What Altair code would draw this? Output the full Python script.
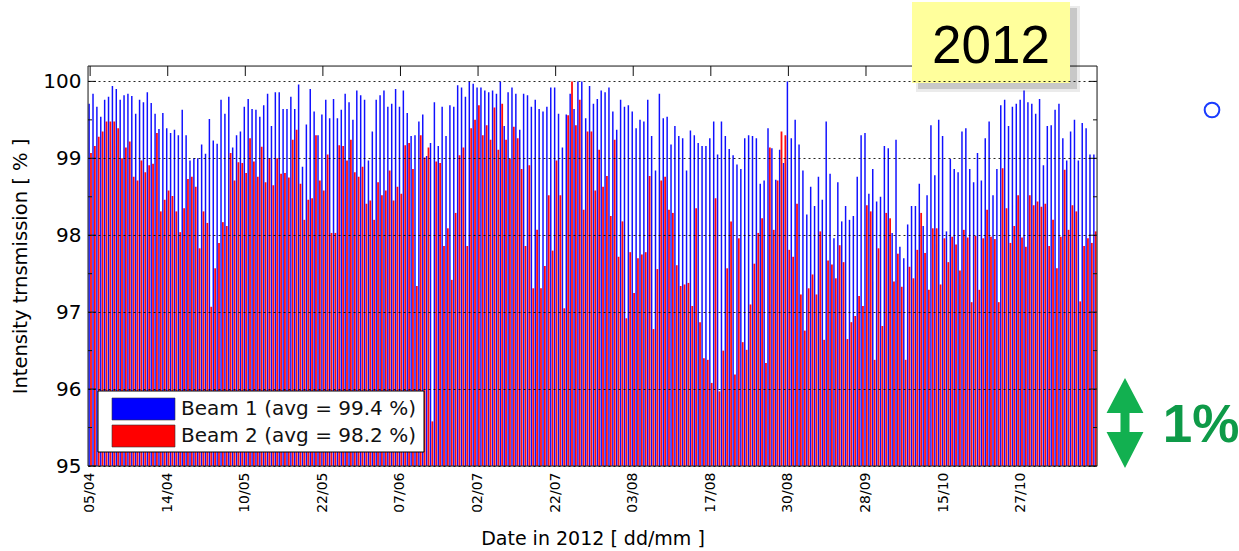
import altair as alt
import pandas as pd

# Intensity transmission per fill, 2012 (percent)
beam1 = [
    99.71, 99.84, 99.67, 99.54, 99.76, 99.80, 99.94, 99.90, 99.76, 99.82,
    99.84, 99.81, 99.58, 99.76, 99.73, 99.86, 99.72, 99.58, 99.38, 99.59,
    99.39, 99.33, 99.37, 99.30, 99.63, 99.30, 98.97, 99.00, 99.00, 99.18,
    99.06, 99.51, 99.23, 99.19, 99.76, 99.58, 99.80, 99.14, 99.30, 99.35,
    99.67, 99.77, 99.64, 99.63, 99.54, 99.69, 99.84, 99.42, 99.86, 99.86,
    99.64, 99.64, 99.80, 99.64, 99.96, 98.89, 99.44, 99.90, 99.61, 99.30,
    99.57, 99.76, 99.52, 99.77, 99.52, 99.63, 99.84, 99.73, 99.50, 99.88,
    99.82, 99.76, 98.97, 99.35, 99.76, 99.82, 99.88, 99.67, 99.71, 99.90,
    99.67, 99.88, 99.59, 99.29, 99.30, 99.48, 99.57, 99.03, 99.20, 99.73,
    99.16, 99.67, 99.29, 99.69, 99.67, 99.95, 99.92, 99.80, 100.0, 99.97,
    99.92, 99.92, 99.88, 99.86, 99.88, 99.84, 100.0, 99.42, 99.86, 99.92,
    99.84, 99.37, 99.84, 99.82, 99.67, 99.76, 99.64, 99.61, 99.67, 99.92,
    99.92, 99.58, 99.14, 99.57, 99.84, 99.64, 100.0, 100.0, 99.52, 99.94,
    99.71, 99.77, 99.88, 99.86, 99.92, 99.61, 99.37, 99.76, 99.67, 99.69,
    99.61, 99.39, 99.50, 99.48, 99.76, 99.29, 98.84, 99.84, 99.52, 99.54,
    99.18, 99.42, 99.29, 99.26, 98.84, 99.36, 99.30, 99.20, 99.16, 99.16,
    99.26, 99.48, 99.05, 99.48, 99.29, 99.12, 99.04, 98.92, 98.86, 99.26,
    99.30, 99.29, 99.26, 98.67, 98.71, 99.39, 99.13, 98.72, 99.11, 98.94,
    100.0, 99.26, 99.50, 99.18, 98.84, 98.27, 98.63, 98.38, 98.76, 98.46,
    99.48, 98.80, 97.96, 98.69, 98.18, 98.38, 98.20, 98.25, 98.76, 99.30,
    99.33, 98.54, 98.86, 98.44, 98.50, 99.16, 99.13, 98.03, 99.24, 97.85,
    97.70, 98.14, 98.38, 98.38, 98.67, 98.12, 98.52, 99.43, 98.78, 99.50,
    99.29, 98.05, 98.99, 98.86, 98.82, 99.35, 99.39, 98.86, 98.69, 99.07,
    98.71, 99.26, 99.48, 98.52, 98.86, 99.69, 99.76, 99.42, 99.67, 99.71,
    99.76, 99.88, 99.73, 99.71, 99.58, 99.77, 98.91, 99.42, 99.43, 99.63,
    99.71, 99.26, 98.97, 99.35, 99.50, 98.97, 99.46, 99.39, 99.05, 99.05,
]

beam2 = [
    99.07, 99.16, 99.28, 99.35, 99.48, 99.48, 99.48, 99.39, 99.00, 99.14,
    99.22, 98.76, 98.71, 98.97, 98.82, 98.91, 98.93, 99.33, 98.31, 98.46,
    98.58, 98.51, 98.31, 98.04, 98.35, 98.73, 98.76, 98.63, 97.83, 98.31,
    98.16, 97.07, 97.57, 97.90, 98.17, 98.12, 99.07, 98.71, 98.95, 98.94,
    98.81, 99.26, 98.96, 98.76, 99.15, 98.69, 99.00, 98.65, 99.00, 98.80,
    98.81, 98.75, 99.24, 99.37, 98.67, 98.20, 98.46, 98.48, 99.30, 98.71,
    98.58, 99.05, 98.03, 98.03, 99.17, 99.16, 98.97, 99.24, 98.82, 98.76,
    98.89, 98.41, 98.45, 98.20, 98.69, 98.52, 98.58, 98.84, 98.45, 98.63,
    98.54, 99.17, 99.20, 98.86, 97.34, 99.30, 99.01, 99.14, 95.58, 98.96,
    98.94, 97.86, 98.09, 97.42, 98.29, 99.04, 99.14, 97.86, 99.39, 99.50,
    99.69, 99.30, 99.43, 99.24, 99.66, 99.11, 99.71, 99.24, 98.99, 99.41,
    99.26, 98.86, 97.86, 98.91, 97.31, 98.07, 97.31, 97.60, 98.52, 97.80,
    98.97, 98.52, 97.05, 99.56, 100.0, 99.43, 99.76, 98.33, 99.35, 99.35,
    98.58, 99.11, 98.63, 98.77, 98.25, 99.24, 97.72, 98.18, 96.92, 97.78,
    97.25, 97.70, 97.75, 97.78, 98.77, 96.78, 97.56, 98.71, 98.76, 98.33,
    98.29, 97.61, 97.34, 97.36, 97.38, 97.08, 98.35, 96.87, 96.40, 96.38,
    96.08, 98.48, 95.97, 96.50, 97.57, 98.18, 96.19, 97.96, 96.61, 96.51,
    97.10, 97.63, 98.03, 98.22, 96.34, 99.14, 98.07, 98.71, 99.35, 99.30,
    97.81, 97.72, 98.41, 97.23, 96.76, 97.31, 97.49, 97.23, 98.05, 96.64,
    97.67, 97.62, 97.44, 97.87, 97.65, 96.65, 96.87, 96.95, 97.21, 97.08,
    98.39, 98.31, 96.38, 97.83, 96.82, 98.29, 98.22, 97.40, 97.76, 97.33,
    96.38, 97.59, 97.44, 97.81, 98.29, 97.77, 97.29, 98.09, 98.09, 97.36,
    97.96, 97.65, 97.98, 97.88, 97.54, 98.07, 97.97, 97.13, 97.99, 97.29,
    97.96, 98.33, 97.98, 97.95, 97.13, 98.87, 98.35, 97.90, 98.12, 98.52,
    97.97, 97.85, 98.52, 98.39, 98.44, 98.37, 98.41, 97.86, 98.20, 97.57,
    97.98, 98.85, 98.07, 98.39, 98.31, 97.14, 97.86, 97.96, 97.90, 98.05,
]

series = ["Beam 1 (avg = 99.4 %)", "Beam 2 (avg = 98.2 %)"]
bar_colors = ["#1010ff", "#ff0c0c"]
swatch_colors = ["#0000ff", "#ff0000"]

date_labels = ["05/04", "14/04", "10/05", "22/05", "07/06", "02/07", "22/07",
               "03/08", "17/08", "30/08", "28/09", "15/10", "27/10"]
label_every = 20

y_major = [95, 96, 97, 98, 99, 100]
y_minor = [95.5, 96.5, 97.5, 98.5, 99.5]

W, H = 1009, 400
FONT = "DejaVu Sans"

n = max(len(beam1), len(beam2))
beam1_df = pd.DataFrame({"fill": list(range(len(beam1))), "value": beam1})
beam2_df = pd.DataFrame({"fill": list(range(len(beam2))), "value": beam2})

label_expr = ("[" + ",".join(f"'{d}'" for d in date_labels) + "]"
              + f"[datum.value / {label_every}]")

x_scale = alt.Scale(domain=list(range(n)), paddingInner=0, paddingOuter=0.05)
y_scale = alt.Scale(domain=[95, 100.2], nice=False, zero=False)

x_axis = alt.Axis(
    values=list(range(0, n, label_every)), labelExpr=label_expr,
    labelAngle=270, labelFont=FONT, labelFontSize=14, labelColor="#000",
    labelPadding=6, labelOverlap=False, labelBound=False, labelFlush=False,
    ticks=False, domain=False, grid=False,
    title="Date in 2012 [ dd/mm ]", titleFont=FONT, titleFontSize=19,
    titleFontWeight="normal", titleColor="#000", titleY=63,
)
y_axis = alt.Axis(
    values=y_major, labelFont=FONT, labelFontSize=20, labelColor="#000",
    labelPadding=7, ticks=False, domain=False,
    grid=True, gridColor="#000", gridDash=[2, 3], gridOpacity=0.85, gridWidth=1,
    zindex=1,
    title="Intensity trnsmission [ % ]", titleFont=FONT, titleFontSize=19.5,
    titleFontWeight="normal", titleColor="#000", titleX=-58, titleY=H / 2,
)

x_enc = alt.X("fill:O", scale=x_scale, axis=x_axis)
y_enc = alt.Y("value:Q", scale=y_scale, axis=y_axis)

# grouped bars: Beam 1 on the left half of each fill slot, Beam 2 on the right
bars1 = alt.Chart(beam1_df).mark_bar(
    color=bar_colors[0], width=alt.RelativeBandSize(0.38), xOffset=-1.0
).encode(x=x_enc, y=y_enc, y2=alt.datum(95))
bars2 = alt.Chart(beam2_df).mark_bar(
    color=bar_colors[1], width=alt.RelativeBandSize(0.46), xOffset=0.85
).encode(x=x_enc, y=y_enc, y2=alt.datum(95))

one = pd.DataFrame({"k": [0]})

frame = alt.Chart(one).mark_rect(fillOpacity=0, stroke="#222", strokeWidth=1).encode(
    x=alt.value(0), x2=alt.value(W), y=alt.value(0), y2=alt.value(H)
)

# inward ticks on the left, right and top of the box
major_df = pd.DataFrame({"value": y_major})
minor_df = pd.DataFrame({"value": y_minor})
top_df = pd.DataFrame({"fill": list(range(0, n, label_every))})

def y_ticks(df, length):
    left = alt.Chart(df).mark_rule(color="#111").encode(
        y=y_enc, x=alt.value(0), x2=alt.value(length))
    right = alt.Chart(df).mark_rule(color="#111").encode(
        y=y_enc, x=alt.value(W - length), x2=alt.value(W))
    return left + right

top_ticks = alt.Chart(top_df).mark_rule(color="#111").encode(
    x=x_enc, y=alt.value(0), y2=alt.value(10))

# legend box
lx, ly = 10, 325
legend_box = alt.Chart(one).mark_rect(fill="#fff", stroke="#000", strokeWidth=1).encode(
    x=alt.value(lx), x2=alt.value(lx + 326), y=alt.value(ly), y2=alt.value(ly + 61))
legend_layers = [legend_box]
for k, name in enumerate(series):
    top = ly + 7 + 27 * k
    legend_layers.append(
        alt.Chart(one).mark_rect(fill=swatch_colors[k], stroke="#333", strokeWidth=0.6).encode(
            x=alt.value(lx + 14), x2=alt.value(lx + 77), y=alt.value(top), y2=alt.value(top + 22)))
    legend_layers.append(
        alt.Chart(one).mark_text(text=name, font=FONT, fontSize=20, align="left",
                                 baseline="middle", color="#111").encode(
            x=alt.value(lx + 83), y=alt.value(top + 11)))

# year tag with drop shadow
tag = [
    alt.Chart(one).mark_rect(fill="#000", opacity=0.08).encode(
        x=alt.value(828), x2=alt.value(992), y=alt.value(-60), y2=alt.value(26)),
    alt.Chart(one).mark_rect(fill="#000", opacity=0.15).encode(
        x=alt.value(830), x2=alt.value(989), y=alt.value(-58), y2=alt.value(23)),
    alt.Chart(one).mark_rect(fill="#ffff9c").encode(
        x=alt.value(824), x2=alt.value(982), y=alt.value(-64), y2=alt.value(17)),
    alt.Chart(one).mark_text(text="2012", font="Liberation Sans", fontSize=53,
                             align="center", baseline="alphabetic", color="#000").encode(
        x=alt.value(903), y=alt.value(-3)),
]

circle = alt.Chart(one).mark_point(shape="circle", size=215, filled=False,
                                   stroke="#1a3cff", strokeWidth=2, opacity=1).encode(
    x=alt.value(1124), y=alt.value(44))

arrow_path = ("M0,-1 L0.41,-0.22 L0.1,-0.22 L0.1,0.2 L0.41,0.2 L0,1 "
              "L-0.41,0.2 L-0.1,0.2 L-0.1,-0.22 L-0.41,-0.22 Z")
arrow = alt.Chart(one).mark_point(shape=arrow_path, size=8100, filled=True,
                                  fill="#12b050", strokeWidth=0, opacity=1).encode(
    x=alt.value(1037), y=alt.value(357))
pct = alt.Chart(one).mark_text(text="1%", font="Liberation Sans", fontSize=53,
                               fontWeight="bold", align="center", baseline="alphabetic",
                               color="#0e9a48").encode(
    x=alt.value(1113), y=alt.value(376))

chart = alt.layer(
    bars1, bars2, frame, y_ticks(major_df, 8), y_ticks(minor_df, 4), top_ticks,
    *legend_layers, *tag, circle, arrow, pct,
).properties(
    width=W, height=H,
    padding={"left": 88, "top": 66, "right": 142, "bottom": 85},
    autosize=alt.AutoSizeParams(type="none"),
).configure_view(stroke=None).configure(background="#ffffff")

chart.save("out.html", embed_options={"renderer": "svg", "actions": False})
